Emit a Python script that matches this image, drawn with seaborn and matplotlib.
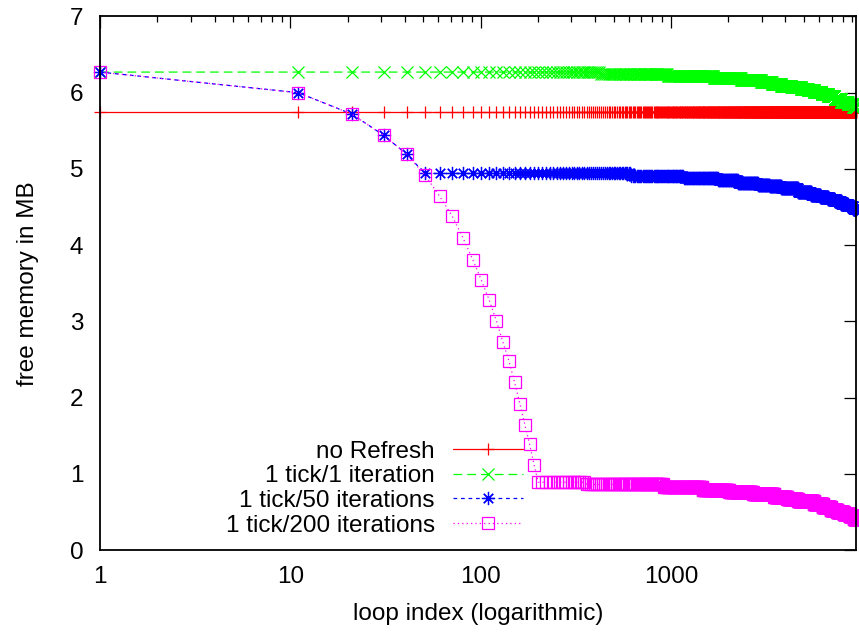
import numpy as np
import pandas as pd
import matplotlib
matplotlib.use('Agg')
import matplotlib.pyplot as plt
import seaborn as sns
from matplotlib.ticker import NullFormatter, FixedLocator

# loop index where a measurement was taken (every 10th iteration)
loop_index = np.arange(1, 9400, 10)

# free memory (MB): value holds from the given loop index on
no_refresh_start = [1]
no_refresh_mb = [5.75]

tick1_start = [1, 430, 960, 1680, 2340, 2980, 3400, 3800, 4300, 4840, 5250,
               5660, 6200, 6700, 7250, 7850, 8500, 9100]
tick1_mb = [6.27, 6.245, 6.22, 6.19, 6.16, 6.14, 6.12, 6.09, 6.07, 6.05, 6.03,
            6.005, 5.98, 5.95, 5.92, 5.88, 5.85, 5.81]

tick50_start = [1, 11, 21, 31, 41, 51, 620, 1170, 1770, 2250, 2870, 3300, 3800,
                4660, 5460, 6100, 6700, 7250, 7850, 8500, 9100]
tick50_mb = [6.27, 6.00, 5.72, 5.44, 5.19, 4.94, 4.91, 4.88, 4.85, 4.82, 4.79,
             4.77, 4.75, 4.70, 4.66, 4.635, 4.61, 4.58, 4.54, 4.51, 4.48]

tick200_start = [1, 11, 21, 31, 41, 51, 61, 71, 81, 91, 101, 111, 121, 131, 141,
                 151, 161, 171, 181, 191, 201, 360, 920, 1470, 2030, 2700, 3500,
                 4100, 4660, 5650, 6300, 6930, 7500, 8100, 8700, 9190]
tick200_mb = [6.27, 6.00, 5.72, 5.44, 5.19, 4.92, 4.64, 4.38, 4.09, 3.81, 3.54,
              3.28, 3.01, 2.73, 2.48, 2.20, 1.92, 1.64, 1.39, 1.12, 0.89, 0.86,
              0.83, 0.79, 0.76, 0.73, 0.70, 0.67, 0.64, 0.60, 0.56, 0.53, 0.50,
              0.47, 0.44, 0.41]

series_labels = ['no Refresh', '1 tick/1 iteration', '1 tick/50 iterations',
                 '1 tick/200 iterations']
x_ticks = [1, 10, 100, 1000]
x_tick_labels = ['1', '10', '100', '1000']
y_ticks = [0, 1, 2, 3, 4, 5, 6, 7]


def expand(starts, values):
    # look up the plateau each loop index falls in
    pos = np.searchsorted(starts, loop_index, side='right') - 1
    return np.asarray(values)[pos]


df = pd.DataFrame({
    'loop': np.tile(loop_index, 4),
    'mb': np.concatenate([expand(no_refresh_start, no_refresh_mb),
                          expand(tick1_start, tick1_mb),
                          expand(tick50_start, tick50_mb),
                          expand(tick200_start, tick200_mb)]),
    'series': np.repeat(series_labels, len(loop_index)),
})

sns.set_style('white')
plt.rcParams['font.family'] = ['Liberation Sans', 'DejaVu Sans']
plt.rcParams['font.size'] = 17.5
plt.rcParams['text.color'] = 'black'
plt.rcParams['axes.labelcolor'] = 'black'
plt.rcParams['xtick.color'] = 'black'
plt.rcParams['ytick.color'] = 'black'

fig = plt.figure(figsize=(8.59, 6.32), dpi=100)
ax = fig.add_axes([0.1164, 0.1297, 0.8801, 0.8443])

styles = [
    dict(color='#ff0000', marker='+', ms=8.5, dashes=None),
    dict(color='#00ff00', marker='x', ms=8.5, dashes=(7, 4)),
    dict(color='#0000ff', marker=(8, 2, 0), ms=9.5, dashes=(3, 3)),
    dict(color='#ff00ff', marker='s', ms=8.3, dashes=(1, 2.5)),
]

for label, st in zip(series_labels, styles):
    sub = df[df['series'] == label]
    sns.lineplot(data=sub, x='loop', y='mb', ax=ax, label=label,
                 color=st['color'], marker=st['marker'], markersize=st['ms'],
                 markeredgewidth=0.9, markeredgecolor=st['color'],
                 markerfacecolor='none', linewidth=0.9, clip_on=False,
                 estimator=None, sort=False)
    line = ax.lines[-1]
    if st['dashes'] is not None:
        line.set_dashes(st['dashes'])

ax.set_xscale('log')
ax.set_xlim(1, 9400)
ax.set_ylim(0, 7)
ax.xaxis.set_major_locator(FixedLocator(x_ticks))
ax.set_xticklabels(x_tick_labels)
ax.xaxis.set_minor_formatter(NullFormatter())
ax.set_yticks(y_ticks)

ax.tick_params(which='both', direction='in', top=True, right=True,
               color='black', labelcolor='black', width=0.9, labelsize=17.5)
ax.tick_params(which='major', length=8.5)
ax.tick_params(axis='x', which='major', pad=11.5)
ax.tick_params(axis='y', which='major', pad=12)
ax.tick_params(which='minor', length=4.5)
ax.tick_params(axis='y', which='minor', left=False, right=False)
for sp in ax.spines.values():
    sp.set_color('black')
    sp.set_linewidth(1.3)

ax.set_xlabel('loop index (logarithmic)', fontsize=17.5, color='black')
ax.set_ylabel('free memory in MB', fontsize=17.5, color='black')
ax.xaxis.set_label_coords(0.5, -0.099)
ax.yaxis.set_label_coords(-0.081, 0.5)

leg = ax.legend(loc='lower right', bbox_to_anchor=(0.5595, 0.025), frameon=False,
                markerfirst=False, numpoints=1, handlelength=2.88,
                handletextpad=0.74, labelspacing=0.11, borderpad=0,
                borderaxespad=0, fontsize=17.5)
for t in leg.get_texts():
    t.set_color('black')

fig.savefig('out.png', dpi=100)
